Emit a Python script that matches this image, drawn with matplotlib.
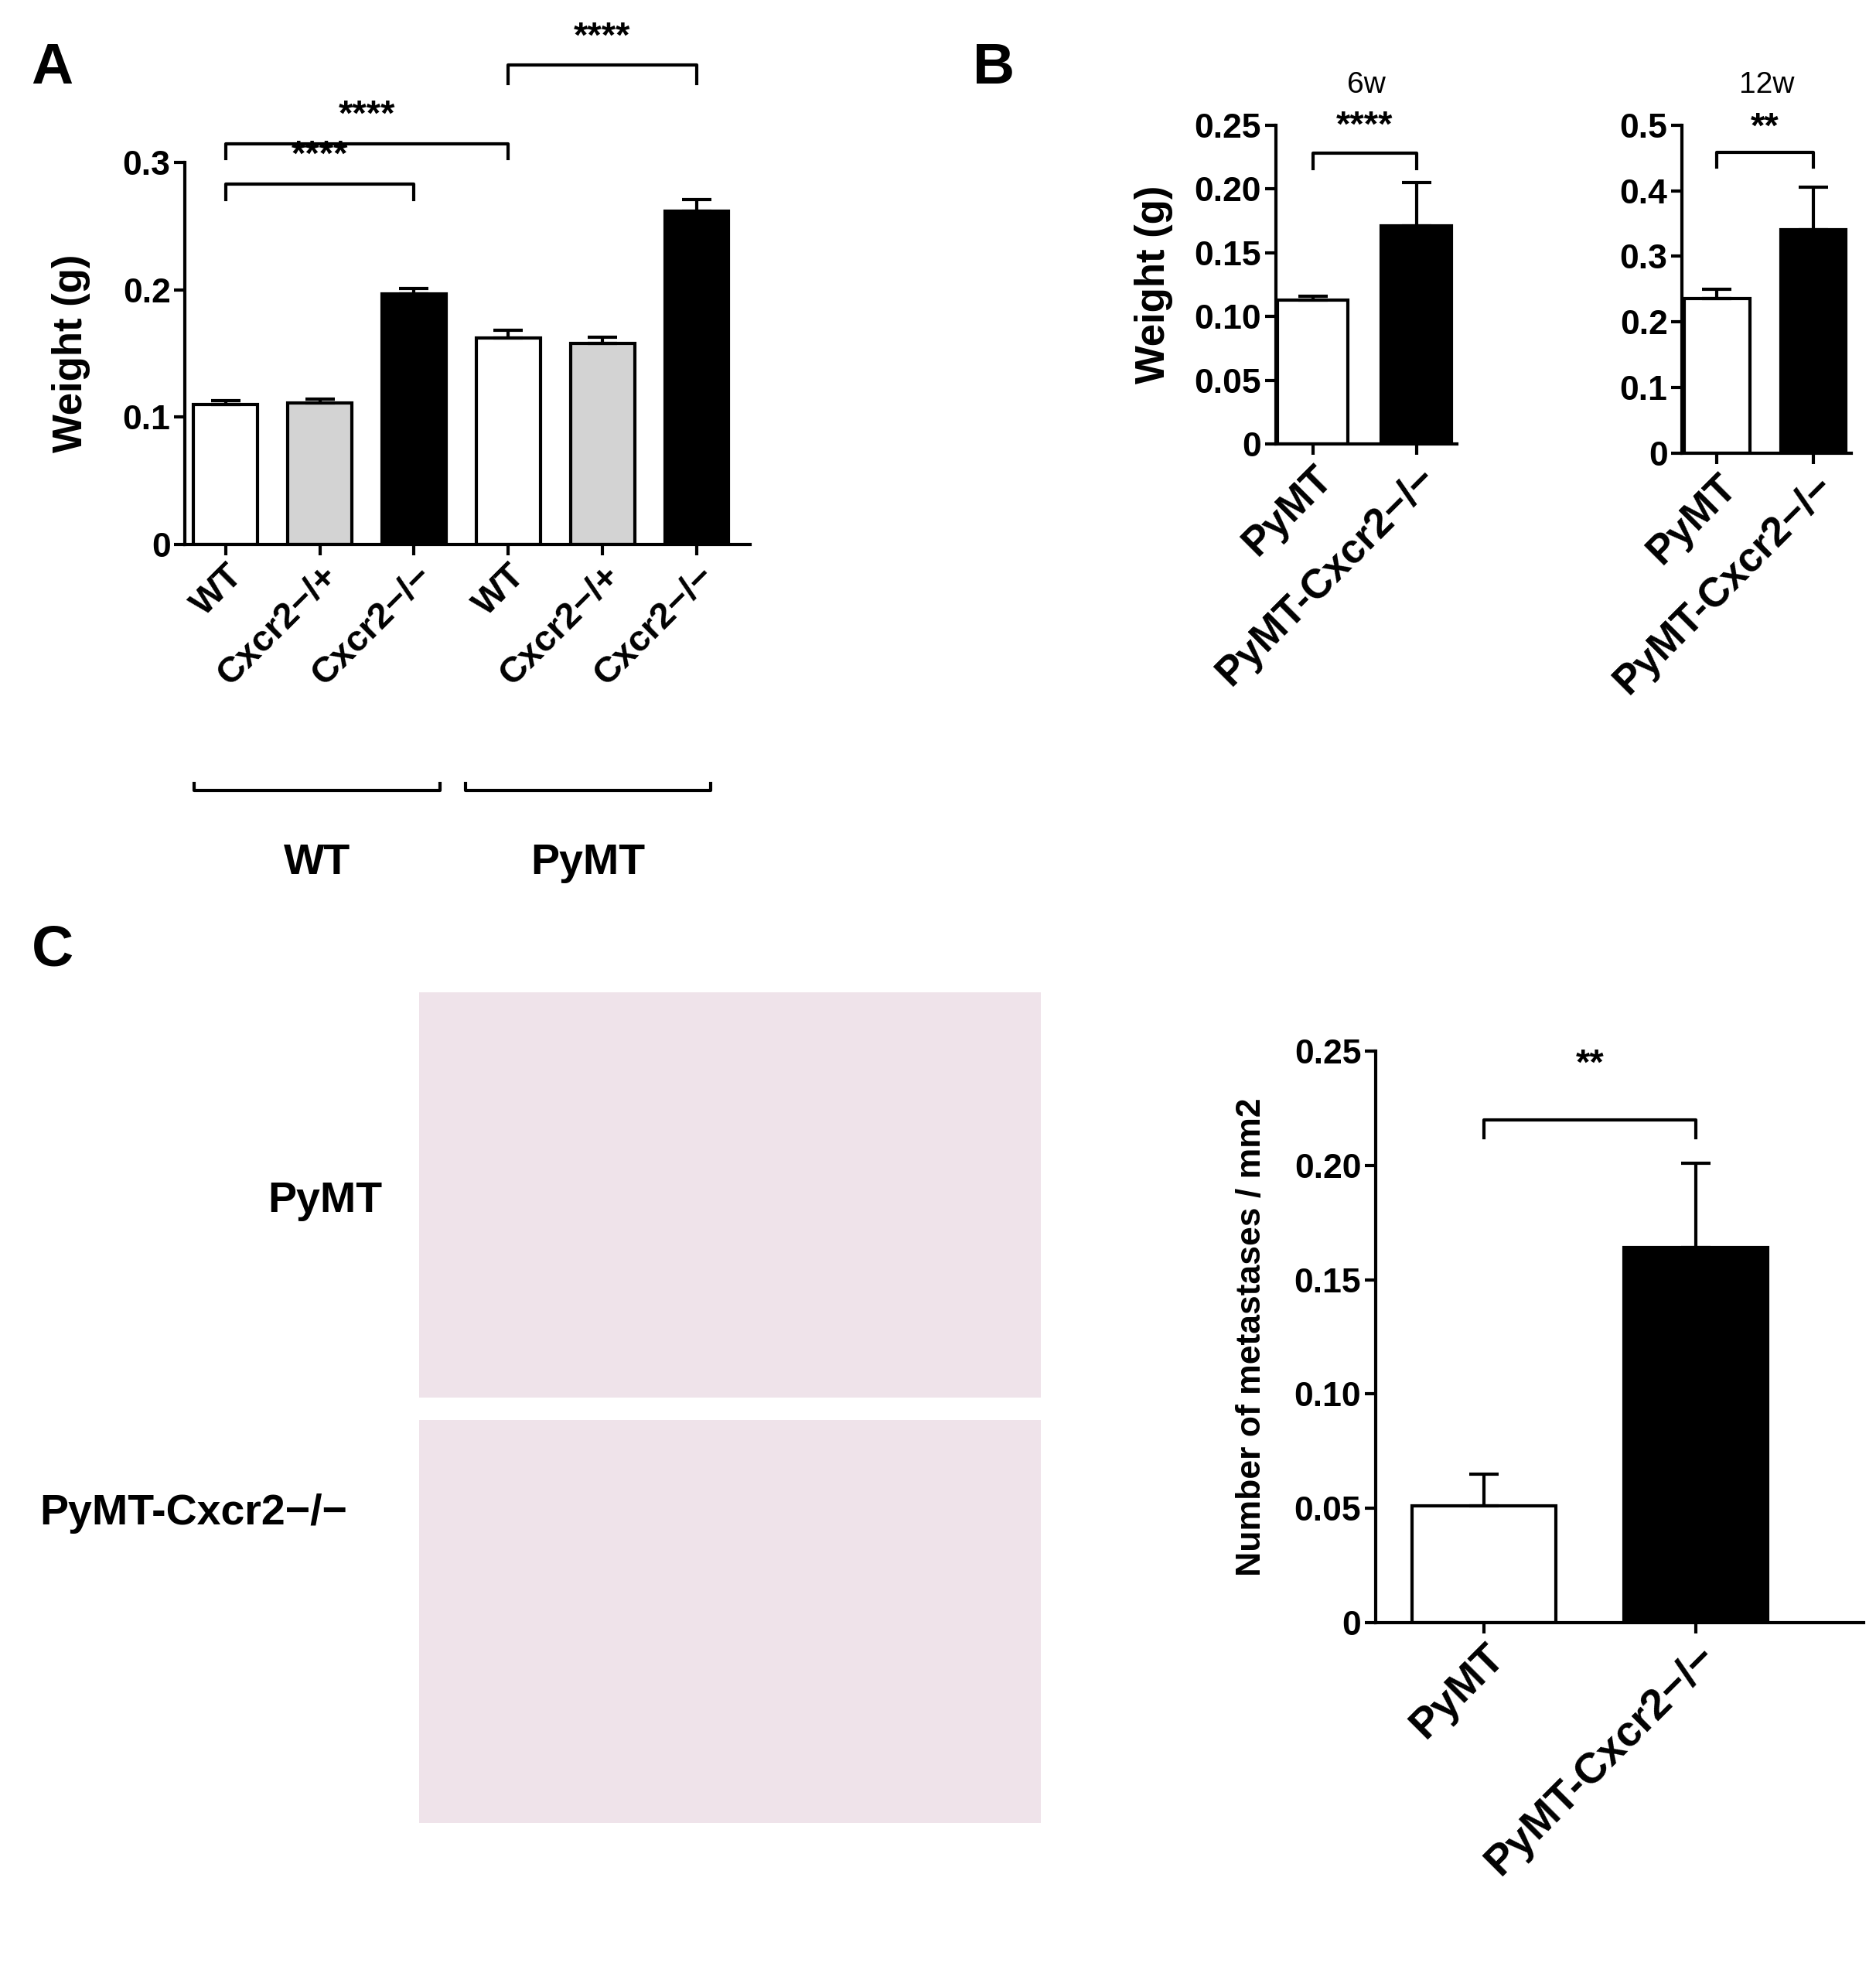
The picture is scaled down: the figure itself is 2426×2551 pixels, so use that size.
import numpy as np
import matplotlib
matplotlib.use("Agg")
import matplotlib.pyplot as plt

plt.rcParams['font.family'] = ['Liberation Sans', 'DejaVu Sans']

# panel A
a_labels = ['WT', 'Cxcr2\u2212/+', 'Cxcr2\u2212/\u2212', 'WT', 'Cxcr2\u2212/+', 'Cxcr2\u2212/\u2212']
a_vals = [0.110, 0.111, 0.197, 0.162, 0.158, 0.262]
a_err = [0.003, 0.003, 0.004, 0.006, 0.005, 0.009]
a_colors = ['white', '#d3d3d3', 'black', 'white', '#d3d3d3', 'black']
# panel B
b_labels = ['PyMT', 'PyMT-Cxcr2\u2212/\u2212']
b6_vals = [0.113, 0.171]
b6_err = [0.003, 0.034]
b12_vals = [0.235, 0.340]
b12_err = [0.015, 0.065]
# panel C
c_vals = [0.051, 0.164]
c_err = [0.014, 0.037]

W, H = 1500.0, 1577.0
fig = plt.figure(figsize=(24.26, 25.51), dpi=100)

def fax(x0, y0, x1, y1):
    return fig.add_axes([x0 / W, 1 - y1 / H, (x1 - x0) / W, (y1 - y0) / H])

def style(ax, ymax, ticks, fmt, xlim):
    ax.set_ylim(0, ymax)
    ax.set_xlim(*xlim)
    ax.set_yticks(ticks)
    ax.set_yticklabels([fmt(t) for t in ticks], fontsize=32, fontweight='bold')
    for s in ['top', 'right']:
        ax.spines[s].set_visible(False)
    for s in ['left', 'bottom']:
        ax.spines[s].set_linewidth(3)
    ax.spines['left'].set_bounds(0, ticks[-1])
    ax.tick_params(width=3, length=10)

def bracket(ax, x0, x1, y, drop, text, ty):
    ax.plot([x0, x0, x1, x1], [y - drop, y, y, y - drop], color='black', lw=3, clip_on=False)
    ax.text((x0 + x1) / 2, ty, text, ha='center', va='center', fontsize=34, fontweight='bold')

def bars(ax, vals, err, colors, width):
    x = np.arange(len(vals))
    ax.bar(x, vals, width=width, color=colors, edgecolor='black', linewidth=3)
    ax.errorbar(x, vals, yerr=[np.zeros(len(err)), err], fmt='none', ecolor='black',
                elinewidth=3, capsize=14, capthick=3)
    return x

def fmt_a(t):
    return '0' if t == 0 else '%.1f' % t

def fmt_b(t):
    return '0' if t == 0 else '%.2f' % t

# ---- A
ax = fax(148, 130, 600, 435)
x = bars(ax, a_vals, a_err, a_colors, 0.68)
style(ax, 0.3, [0, 0.1, 0.2, 0.3], fmt_a, (-0.43, 5.57))
ax.set_xticks(x)
ax.set_xticklabels(a_labels, rotation=45, ha='right', rotation_mode='anchor', fontsize=34, fontweight='bold')
ax.set_ylabel('Weight (g)', fontsize=38, fontweight='bold', labelpad=30)
bracket(ax, 0, 2, 0.283, 0.012, '****', 0.305)
bracket(ax, 0, 3, 0.315, 0.012, '****', 0.337)
bracket(ax, 3, 5, 0.377, 0.015, '****', 0.398)
fig.text(25 / W, 1 - 55 / H, 'A', fontsize=54, fontweight='bold', ha='left', va='center')
for (x0, x1, lab) in [(155, 352, 'WT'), (372, 568, 'PyMT')]:
    fig.add_artist(plt.Line2D([x0 / W, x0 / W, x1 / W, x1 / W],
                              [1 - 626 / H, 1 - 632 / H, 1 - 632 / H, 1 - 626 / H],
                              color='black', lw=3))
    fig.text((x0 + x1) / 2 / W, 1 - 690 / H, lab, fontsize=40, fontweight='bold', ha='center', va='center')

# ---- B
fig.text(778 / W, 1 - 55 / H, 'B', fontsize=54, fontweight='bold', ha='left', va='center')
ax = fax(1020, 100, 1165, 355)
x = bars(ax, b6_vals, b6_err, ['white', 'black'], 0.68)
style(ax, 0.25, [0, 0.05, 0.10, 0.15, 0.20, 0.25], fmt_b, (-0.36, 1.39))
ax.set_xticks(x)
ax.set_xticklabels(b_labels, rotation=45, ha='right', rotation_mode='anchor', fontsize=38, fontweight='bold')
ax.set_ylabel('Weight (g)', fontsize=38, fontweight='bold', labelpad=20)
ax.set_title('6w', fontsize=28, pad=30)
bracket(ax, 0, 1, 0.228, 0.012, '****', 0.249)

ax = fax(1345, 100, 1480, 362)
x = bars(ax, b12_vals, b12_err, ['white', 'black'], 0.68)
style(ax, 0.5, [0, 0.1, 0.2, 0.3, 0.4, 0.5], fmt_a, (-0.36, 1.39))
ax.set_xticks(x)
ax.set_xticklabels(b_labels, rotation=45, ha='right', rotation_mode='anchor', fontsize=38, fontweight='bold')
ax.set_title('12w', fontsize=28, pad=30)
bracket(ax, 0, 1, 0.458, 0.022, '**', 0.495)

# ---- C
fig.text(25 / W, 1 - 760 / H, 'C', fontsize=54, fontweight='bold', ha='left', va='center')
for (y0, y1) in [(793, 1117), (1135, 1457)]:
    im = fax(335, y0, 832, y1)
    im.set_facecolor('#efe3ea')
    im.set_xticks([])
    im.set_yticks([])
    for s in im.spines.values():
        s.set_visible(False)
fig.text(260 / W, 1 - 960 / H, 'PyMT', fontsize=40, fontweight='bold', ha='center', va='center')
fig.text(155 / W, 1 - 1210 / H, 'PyMT-Cxcr2\u2212/\u2212', fontsize=40, fontweight='bold', ha='center', va='center')

ax = fax(1100, 840, 1490, 1297)
x = bars(ax, c_vals, c_err, ['white', 'black'], 0.68)
style(ax, 0.25, [0, 0.05, 0.10, 0.15, 0.20, 0.25], fmt_b, (-0.51, 1.79))
ax.set_xticks(x)
ax.set_xticklabels(b_labels, rotation=45, ha='right', rotation_mode='anchor', fontsize=40, fontweight='bold')
ax.set_ylabel('Number of metastases / mm2', fontsize=32, fontweight='bold', labelpad=25)
bracket(ax, 0, 1, 0.22, 0.008, '**', 0.244)

fig.savefig('out.png', dpi=100, facecolor='white')
